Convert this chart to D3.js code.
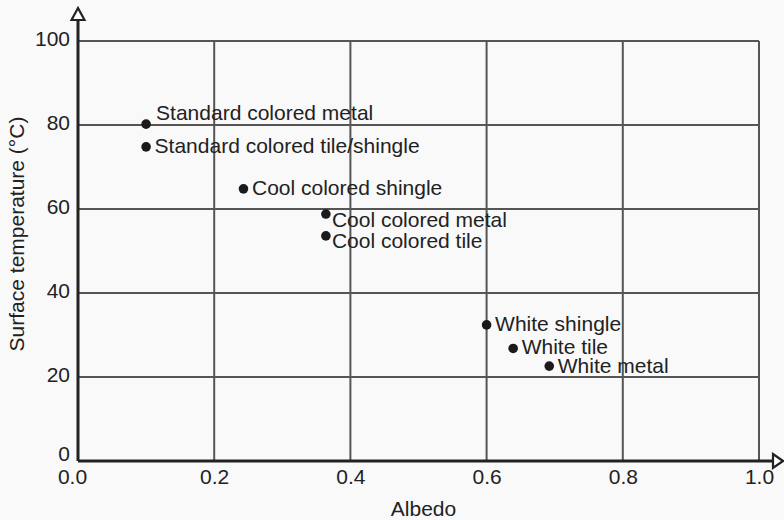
<!DOCTYPE html>
<html>
<head>
<meta charset="utf-8">
<script src="https://cdn.jsdelivr.net/npm/d3@7"></script>
<style>
  body { margin: 0; background: #f9f9f9; }
  text { font-family: "Liberation Sans", Arial, sans-serif; fill: #222; }
</style>
</head>
<body>
<div id="my_dataviz"></div>
<script>
// roof materials: albedo vs surface temperature
var materials = ["Standard colored metal", "Standard colored tile/shingle", "Cool colored shingle",
                 "Cool colored metal", "Cool colored tile", "White shingle", "White tile", "White metal"];
var albedo = [0.10, 0.10, 0.243, 0.364, 0.364, 0.60, 0.639, 0.692];
var temperature = [80.2, 74.8, 64.8, 58.8, 53.6, 32.4, 26.8, 22.6];
var labelSide = ["above", "right", "right", "below", "below", "right", "right", "right"];
var xTicks = [0, 0.2, 0.4, 0.6, 0.8, 1.0];
var yTicks = [0, 20, 40, 60, 80, 100];

var Width = 784, Height = 520;
var margin = {top: 41, right: 25, bottom: 59, left: 78},
    width = Width - margin.left - margin.right,
    height = Height - margin.top - margin.bottom;

var svg = d3.select("#my_dataviz")
  .append("svg")
    .attr("width", Width)
    .attr("height", Height)
  .append("g")
    .attr("transform", "translate(" + margin.left + "," + margin.top + ")");

var x = d3.scaleLinear().domain([0, 1]).range([0, width]);
var y = d3.scaleLinear().domain([0, 100]).range([height, 0]);

// grid
svg.append("g").selectAll("line.v")
  .data(xTicks.slice(1)).enter().append("line")
    .attr("x1", d => x(d)).attr("x2", d => x(d))
    .attr("y1", 0).attr("y2", height)
    .style("stroke", "#555").style("stroke-width", 2)
svg.append("g").selectAll("line.h")
  .data(yTicks.slice(1)).enter().append("line")
    .attr("x1", 0).attr("x2", width)
    .attr("y1", d => y(d)).attr("y2", d => y(d))
    .style("stroke", "#555").style("stroke-width", 2)

// tick labels through the d3 axes, no tick marks / domain
var xAxis = svg.append("g")
  .attr("transform", "translate(0," + height + ")")
  .call(d3.axisBottom(x).tickValues(xTicks).tickSize(0).tickPadding(0).tickFormat(d3.format(".1f")))
xAxis.select(".domain").remove()
xAxis.selectAll("text")
  .attr("y", 23).attr("dy", 0)
  .attr("dx", d => d === 0 ? -6 : 0)
  .style("font-size", "21px").style("fill", "#222")

var yAxis = svg.append("g")
  .call(d3.axisLeft(y).tickValues(yTicks).tickSize(0).tickPadding(0).tickFormat(d3.format("d")))
yAxis.select(".domain").remove()
yAxis.selectAll("text")
  .attr("x", -8).attr("dy", d => d === 0 ? -1 : 4)
  .attr("dominant-baseline", "auto")
  .style("font-size", "21px").style("fill", "#222")

// axis lines with open arrowheads
svg.append("line").attr("x1", 0).attr("x2", 0).attr("y1", height).attr("y2", -21)
  .style("stroke", "#222").style("stroke-width", 3)
svg.append("line").attr("x1", 0).attr("x2", width + 14).attr("y1", height).attr("y2", height)
  .style("stroke", "#222").style("stroke-width", 3)
svg.append("path")
  .attr("d", "M-6.5,-21 L0,-33 L6.5,-21 Z")
  .style("fill", "#fff").style("stroke", "#222").style("stroke-width", 2.2)
svg.append("path")
  .attr("d", "M" + (width + 14) + "," + (height - 7) + " L" + (width + 24) + "," + height +
        " L" + (width + 14) + "," + (height + 7) + " Z")
  .style("fill", "#fff").style("stroke", "#222").style("stroke-width", 2.2)

// axis titles
svg.append("text")
  .attr("x", x(0.5) + 5).attr("y", height + 55)
  .attr("text-anchor", "middle")
  .style("font-size", "21px")
  .text("Albedo")
svg.append("text")
  .attr("transform", "translate(" + (-54) + "," + (y(50) - 17) + ") rotate(-90)")
  .attr("text-anchor", "middle")
  .style("font-size", "21px")
  .text("Surface temperature (°C)")

// dots and labels
var idx = d3.range(materials.length)
svg.append("g").selectAll("circle")
  .data(idx).enter().append("circle")
    .attr("cx", i => x(albedo[i]))
    .attr("cy", i => y(temperature[i]))
    .attr("r", 4.8)
    .style("fill", "#1a1a1a")

var offs = {right: [8.5, 6.5], above: [10, -4], below: [6, 12.5]}
svg.append("g").selectAll("text")
  .data(idx).enter().append("text")
    .attr("x", i => x(albedo[i]) + offs[labelSide[i]][0])
    .attr("y", i => y(temperature[i]) + offs[labelSide[i]][1] + (i === 6 ? -1 : 0))
    .style("font-size", "21px")
    .text(i => materials[i])
</script>
</body>
</html>
